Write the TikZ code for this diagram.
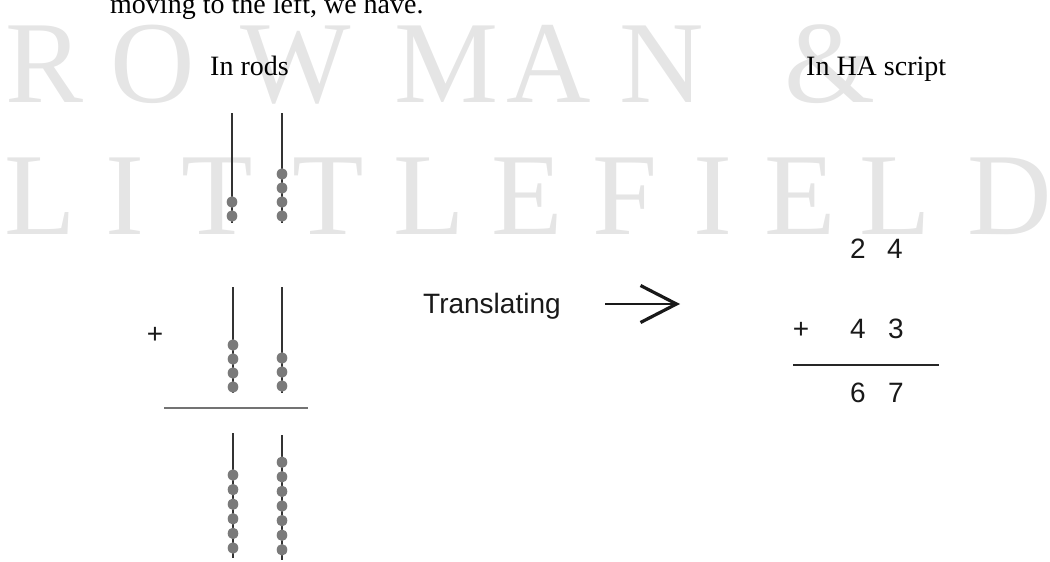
\documentclass[tikz,border=0pt]{standalone}
\usepackage{fontspec}
\setmainfont{Liberation Serif}
\newfontfamily\sansfont{Liberation Sans}
\usetikzlibrary{arrows.meta}

\tikzset{
  caption/.style={font=\fontsize{28}{30}\selectfont, anchor=base west, inner sep=0pt, text=black},
  wmletter/.style={font=\fontsize{117}{117}\selectfont, anchor=base, inner sep=0pt, text=black!10},
  sanstext/.style={font=\sansfont\fontsize{28}{30}\selectfont, inner sep=0pt, text=black!90},
  digit/.style={sanstext, anchor=base},
  rodline/.style={draw=black!80, line width=2.2pt},
  bead/.style={fill=black!52},
  rodsrule/.style={draw=black!55, line width=1.5pt},
  sumrule/.style={draw=black!85, line width=2.2pt},
  translarrow/.style={draw=black!90, line width=2pt,
    -{Straight Barb[length=36pt, width=37pt, line width=3.2pt, sharp]}},
}

% one abacus rod: x, top, bottom, list of bead centres
\newcommand\abacusrod[4]{%
  \draw[rodline] (#1,#2) -- (#1,#3);
  \foreach \by in {#4} {\fill[bead] (#1,\by) ellipse [x radius=5.3pt, y radius=5.8pt];}
}

\begin{document}
\begin{tikzpicture}[x=1pt, y=-1pt]
  \useasboundingbox (0,0) rectangle (1050,562);
  \clip (0,0) rectangle (1050,562);

  % publisher watermark
  \foreach \ch/\cx in {R/45, O/153, W/296, M/447, A/549, N/662, \&/830}
    \node[wmletter] at (\cx,102) {\ch};
  \foreach \ch/\cx in {L/40, I/125, T/217, T/328, L/429, E/527, F/625, I/713, E/800, L/895, D/1010}
    \node[wmletter] at (\cx,234) {\ch};

  % running text and column headings
  \node[caption] (lead) at (110,13) {moving to the left, we have.};
  \node[caption] (hrods) at (210,75) {In rods};
  \node[caption] (hscript) at (806,75) {In HA script};

  % first addend: 24
  \abacusrod{232}{113}{223}{202,216}
  \abacusrod{282}{113}{223}{174,188,202,216}

  % second addend: 43
  \node[sanstext, anchor=base] (lplus) at (155,343) {+};
  \abacusrod{233}{287}{393}{345,359,373,387}
  \abacusrod{282}{287}{393}{358,372,386}
  \coordinate (rl) at (164,408);
  \coordinate (rr) at (308,408);
  \draw[rodsrule] (rl) -- (rr);

  % sum: 67
  \abacusrod{233}{433}{558}{475,489.6,504.2,518.8,533.4,548}
  \abacusrod{282}{435}{560}{462.2,476.8,491.4,506,520.6,535.2,549.8}

  % translation
  \node[sanstext, anchor=base west] (transl) at (423,313) {Translating};
  \coordinate (arrS) at (605,304);
  \coordinate (arrE) at (680,304);
  \draw[translarrow] (arrS) -- (arrE);

  % HA script column
  \node[digit] (a1) at (858,258) {2};
  \node[digit] (a2) at (895,258) {4};
  \node[digit] (rplus) at (801,338) {+};
  \node[digit] (b1) at (858,338) {4};
  \node[digit] (b2) at (896,338) {3};
  \coordinate (sl) at (793,365);
  \coordinate (sr) at (939,365);
  \draw[sumrule] (sl) -- (sr);
  \node[digit] (c1) at (858,402) {6};
  \node[digit] (c2) at (896,402) {7};
\end{tikzpicture}
\end{document}
